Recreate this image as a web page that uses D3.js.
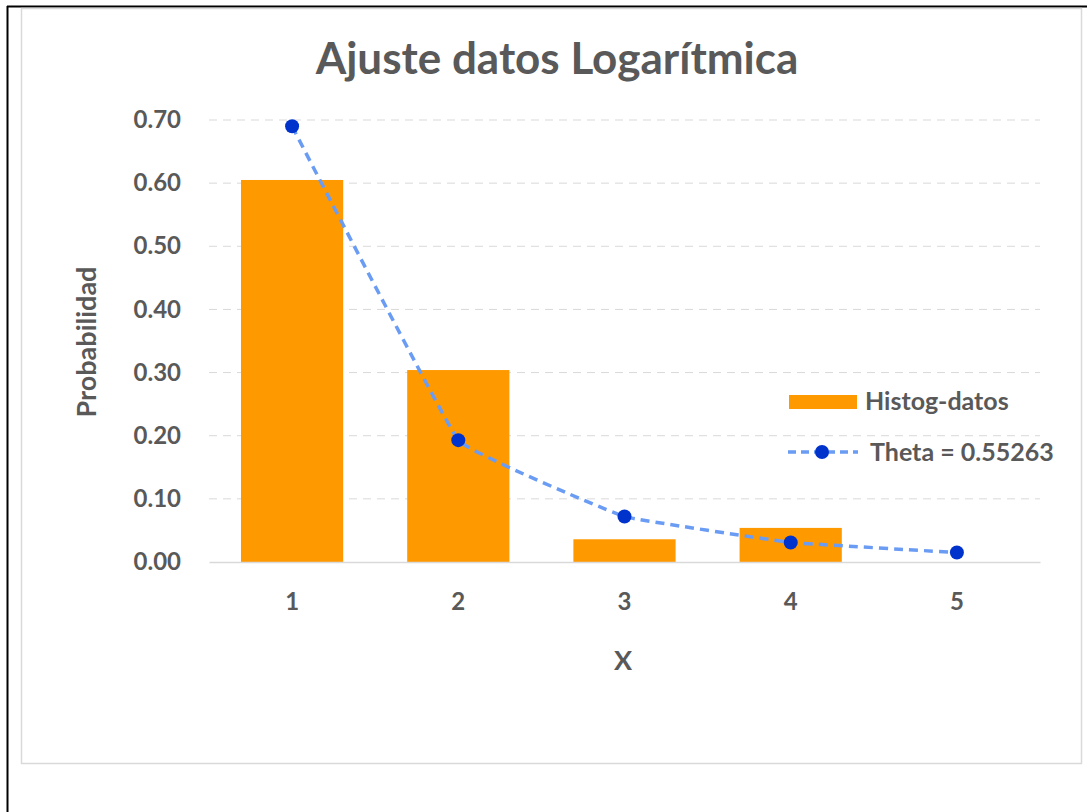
<!DOCTYPE html>
<html>
<head>
<meta charset="utf-8">
<script src="https://cdn.jsdelivr.net/npm/d3@7"></script>
<style>
  body { margin: 0; background: #fff; }
  text { font-family: Lato, "Open Sans", sans-serif; fill: #595959; font-weight: bold; }
</style>
</head>
<body>
<div id="chart"></div>
<script>
// data
const categories = [1, 2, 3, 4, 5];
const histValues = [0.605, 0.304, 0.036, 0.054, 0];
const thetaValues = [0.690, 0.193, 0.072, 0.031, 0.015];
const yTicks = [0, 0.1, 0.2, 0.3, 0.4, 0.5, 0.6, 0.7];
const titleText = "Ajuste datos Logarítmica";
const histLabel = "Histog-datos";
const thetaLabel = "Theta = 0.55263";

const W = 1087, H = 812;
const margin = { top: 120, right: 47, bottom: 250, left: 209 },
    width = W - margin.left - margin.right,
    height = 562 - margin.top;

const svg = d3.select("#chart")
    .append("svg")
    .attr("width", W)
    .attr("height", H);

// outer frame lines
svg.append("line").attr("x1", 7).attr("x2", 1087).attr("y1", 6.5).attr("y2", 6.5)
    .attr("stroke", "#000").attr("stroke-width", 2);
svg.append("line").attr("x1", 7.5).attr("x2", 7.5).attr("y1", 6).attr("y2", H)
    .attr("stroke", "#000").attr("stroke-width", 2);

// chart area box
svg.append("rect")
    .attr("x", 21.5).attr("y", 8.5)
    .attr("width", 1060).attr("height", 755)
    .attr("fill", "#fff")
    .attr("stroke", "#d9d9d9")
    .attr("stroke-width", 1.5);

const g = svg.append("g")
    .attr("transform", `translate(${margin.left},${margin.top})`);

const x = d3.scaleBand()
    .domain(categories)
    .range([0, width])
    .paddingInner(0.385)
    .paddingOuter(0.1925);

const y = d3.scaleLinear()
    .domain([0, 0.7])
    .range([height, 0]);

// gridlines
g.append("g")
    .selectAll("line")
    .data(yTicks.filter(d => d > 0))
    .join("line")
    .attr("x1", 0).attr("x2", width)
    .attr("y1", d => y(d)).attr("y2", d => y(d))
    .attr("stroke", "#d9d9d9")
    .attr("stroke-dasharray", "8,6");

// y axis labels
const yAxis = g.append("g")
    .call(d3.axisLeft(y).tickValues(yTicks).tickFormat(d3.format(".2f")).tickSize(0).tickPadding(28));
yAxis.select(".domain").remove();
yAxis.selectAll("text").style("font-size", "24px").attr("fill", "#595959");

// bars
g.append("g")
    .selectAll("rect")
    .data(categories.map((c, i) => ({ c, v: histValues[i] })))
    .join("rect")
    .attr("x", d => x(d.c))
    .attr("y", d => y(d.v))
    .attr("width", x.bandwidth())
    .attr("height", d => height - y(d.v))
    .attr("fill", "#ff9900");

// x axis
const xAxis = g.append("g")
    .attr("transform", `translate(0,${height})`)
    .call(d3.axisBottom(x).tickSize(0).tickPadding(31));
xAxis.select(".domain").attr("stroke", "#d9d9d9").attr("stroke-width", 1.5);
xAxis.selectAll("text").style("font-size", "24px").attr("fill", "#595959");

// fitted line (lightly smoothed)
const cx = d => x(d) + x.bandwidth() / 2;
const pts = categories.map((c, i) => [cx(c), y(thetaValues[i])]);
g.append("path")
    .datum(pts)
    .attr("d", d3.line().curve(d3.curveCardinal.tension(0.8)))
    .attr("fill", "none")
    .attr("stroke", "#6b9cf4")
    .attr("stroke-width", 3.5)
    .attr("stroke-dasharray", "9,6");
g.append("g")
    .selectAll("circle")
    .data(pts)
    .join("circle")
    .attr("cx", d => d[0])
    .attr("cy", d => d[1])
    .attr("r", 7)
    .attr("fill", "#0033cc");

// titles
svg.append("text")
    .attr("x", 557).attr("y", 74)
    .attr("text-anchor", "middle")
    .style("font-size", "44px")
    .text(titleText);

svg.append("text")
    .attr("transform", "translate(96,342) rotate(-90)")
    .attr("text-anchor", "middle")
    .style("font-size", "27px")
    .text("Probabilidad");

svg.append("text")
    .attr("x", 623).attr("y", 670)
    .attr("text-anchor", "middle")
    .style("font-size", "27px")
    .text("X");

// legend
const legend = svg.append("g");
legend.append("rect")
    .attr("x", 789).attr("y", 395)
    .attr("width", 68).attr("height", 14)
    .attr("fill", "#ff9900");
legend.append("text")
    .attr("x", 865).attr("y", 410)
    .style("font-size", "25px")
    .text(histLabel);
legend.append("line")
    .attr("x1", 788).attr("x2", 858)
    .attr("y1", 452).attr("y2", 452)
    .attr("stroke", "#6b9cf4")
    .attr("stroke-width", 3.5)
    .attr("stroke-dasharray", "8,5");
legend.append("circle")
    .attr("cx", 822).attr("cy", 452).attr("r", 7)
    .attr("fill", "#0033cc");
legend.append("text")
    .attr("x", 870).attr("y", 461)
    .style("font-size", "25px")
    .text(thetaLabel);
</script>
</body>
</html>
